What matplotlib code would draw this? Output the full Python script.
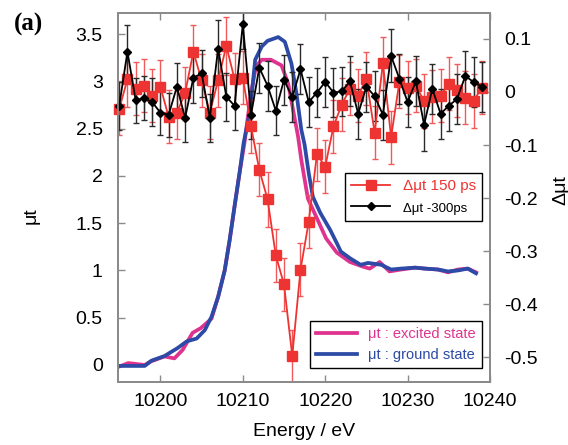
import matplotlib
matplotlib.use("Agg")
import matplotlib.pyplot as plt
import numpy as np
from matplotlib.ticker import FuncFormatter, MultipleLocator

plt.rcParams['font.family'] = ['Liberation Sans', 'DejaVu Sans']
plt.rcParams['axes.unicode_minus'] = False

# transient difference signals (right axis), one point per eV
energy = np.arange(10195, 10240)
d_150ps = [-0.032, 0.024, 0.006, 0.012, -0.007, 0.010, -0.047, -0.039, -0.002, 0.076,
           0.022, -0.039, 0.022, 0.087, 0.024, 0.027, -0.065, -0.147, -0.202, -0.308,
           -0.363, -0.498, -0.335, -0.245, -0.117, -0.141, -0.065, -0.024, 0.006, -0.007,
           0.025, -0.077, 0.054, -0.085, 0.019, 0.008, 0.012, -0.017, -0.009, -0.007,
           0.016, 0.003, -0.011, -0.017, 0.008]
err_150ps = [0.05, 0.052, 0.05, 0.05, 0.05, 0.05, 0.05, 0.05, 0.05, 0.05,
             0.05, 0.05, 0.05, 0.055, 0.05, 0.05, 0.05, 0.05, 0.052, 0.05,
             0.05, 0.05, 0.05, 0.05, 0.05, 0.05, 0.05, 0.05, 0.05, 0.05,
             0.05, 0.05, 0.05, 0.05, 0.05, 0.05, 0.05, 0.05, 0.05, 0.05,
             0.05, 0.05, 0.05, 0.05, 0.05]
d_m300ps = [-0.026, 0.076, -0.016, -0.011, -0.019, -0.039, -0.043, 0.010, -0.049, 0.027,
            0.035, -0.049, 0.082, -0.009, -0.026, 0.128, -0.043, 0.046, 0.012, -0.035,
            0.023, -0.010, 0.043, -0.019, -0.001, 0.019, -0.001, 0.001, 0.020, -0.041,
            0.010, -0.008, -0.043, 0.068, 0.025, -0.019, 0.020, -0.062, 0.006, -0.041,
            -0.026, -0.013, 0.030, 0.019, 0.010]
err_m300ps = [0.045, 0.05, 0.042, 0.042, 0.045, 0.043, 0.041, 0.045, 0.045, 0.047,
              0.045, 0.045, 0.054, 0.045, 0.045, 0.047, 0.045, 0.047, 0.047, 0.047,
              0.047, 0.047, 0.047, 0.047, 0.047, 0.047, 0.047, 0.047, 0.047, 0.047,
              0.047, 0.047, 0.047, 0.05, 0.047, 0.047, 0.047, 0.05, 0.047, 0.047,
              0.047, 0.047, 0.047, 0.047, 0.047]

# XANES spectra (left axis)
ex_E = [10194.9, 10196.1, 10198.1, 10198.9, 10200.5, 10201.7, 10202.7, 10203.9, 10204.9,
        10206.2, 10207.0, 10207.8, 10208.4, 10209.0, 10209.6, 10210.2, 10211.0, 10211.6,
        10212.3, 10213.4, 10214.7, 10215.5, 10216.1, 10216.7, 10217.1, 10217.9, 10218.9,
        10220.1, 10221.4, 10223.0, 10224.6, 10225.4, 10226.6, 10227.8, 10229.2, 10230.9,
        10232.1, 10233.7, 10234.9, 10236.1, 10237.3, 10238.3]
ex_mu = [-0.02, 0.02, 0.0, 0.04, 0.09, 0.07, 0.16, 0.34, 0.39,
         0.49, 0.72, 1.00, 1.32, 1.68, 2.03, 2.35, 2.88, 3.16,
         3.23, 3.23, 3.17, 2.98, 2.70, 2.42, 2.17, 1.76, 1.57,
         1.34, 1.19, 1.09, 1.04, 1.02, 1.09, 0.99, 1.01, 1.03,
         1.02, 1.01, 0.98, 1.01, 1.02, 0.98]
gs_E = [10194.9, 10196.5, 10198.1, 10198.9, 10200.5, 10202.1, 10203.2, 10204.4, 10205.4,
        10206.2, 10207.0, 10207.8, 10208.4, 10209.0, 10209.6, 10210.1, 10210.9, 10211.5,
        10212.3, 10213.0, 10214.3, 10215.1, 10215.9, 10216.5, 10217.1, 10217.5, 10218.0,
        10218.5, 10219.4, 10220.6, 10221.4, 10221.9, 10223.0, 10224.3, 10225.2, 10226.0,
        10226.8, 10228.0, 10229.2, 10230.9, 10232.1, 10233.7, 10234.9, 10236.1, 10237.3,
        10238.3]
gs_mu = [-0.01, -0.01, -0.01, 0.045, 0.095, 0.18, 0.25, 0.28, 0.37,
         0.51, 0.72, 1.00, 1.32, 1.68, 2.03, 2.35, 2.70, 3.23,
         3.37, 3.43, 3.47, 3.42, 3.19, 2.88, 2.49, 2.33, 2.03,
         1.78, 1.61, 1.43, 1.29, 1.20, 1.13, 1.06, 1.08, 1.07,
         1.06, 1.01, 1.02, 1.03, 1.02, 1.01, 0.99, 1.00, 1.02,
         0.97]

RED = '#ee3333'
BLACK = '#000000'
PINK = '#e0338f'
BLUE = '#2c4aa6'
SPINE = '#8a8a8a'

fig = plt.figure(figsize=(5.68, 4.45), dpi=100)
ax = fig.add_axes([0.2077, 0.1416, 0.655, 0.8299])

ax.plot(ex_E, ex_mu, color=PINK, lw=2.7, label='μt : excited state')
ax.plot(gs_E, gs_mu, color=BLUE, lw=2.7, label='μt : ground state')

ax.set_xlim(10194.85, 10240)
ax.set_ylim(-0.18, 3.728)
ax.xaxis.set_major_locator(MultipleLocator(10))
ax.yaxis.set_major_locator(MultipleLocator(0.5))
fmt = FuncFormatter(lambda v, p: f'{v:g}')
ax.xaxis.set_major_formatter(fmt)
ax.yaxis.set_major_formatter(fmt)
ax.tick_params(axis='x', direction='in', top=True, length=5, width=1, color=SPINE,
               labelsize=14, pad=8)
ax.tick_params(axis='y', direction='in', right=False, length=5, width=1, color=SPINE,
               labelsize=14, pad=11)
ax.set_xlabel('Energy / eV', fontsize=14, labelpad=9)
ax.set_ylabel('μt', fontsize=14)
ax.yaxis.set_label_coords(-0.21, 0.45)

leg1 = ax.legend(loc='lower right', bbox_to_anchor=(0.978, 0.037), borderaxespad=0,
                 fontsize=10.5, labelcolor='linecolor', handlelength=2.8,
                 fancybox=False, edgecolor='black', framealpha=1)
leg1.get_frame().set_linewidth(1)

ax2 = ax.twinx()
ax2.errorbar(energy, d_150ps, yerr=err_150ps, fmt='none', ecolor='#f05a5a',
             elinewidth=1, capsize=2.5, capthick=1)
ax2.errorbar(energy, d_m300ps, yerr=err_m300ps, fmt='none', ecolor='#2a2a2a',
             elinewidth=1, capsize=2.5, capthick=1)
l1, = ax2.plot(energy, d_150ps, color=RED, lw=1.3, marker='s', ms=6.5,
               label='Δμt 150 ps', clip_on=False)
l2, = ax2.plot(energy, d_m300ps, color=BLACK, lw=1.3, marker='D', ms=4.5,
               label='Δμt -300ps', clip_on=False)
ax2.set_ylim(-0.547, 0.1496)
ax2.yaxis.set_major_locator(MultipleLocator(0.1))
ax2.yaxis.set_major_formatter(FuncFormatter(lambda v, p: f'{round(v, 2):g}'))
ax2.tick_params(axis='y', direction='in', length=5, width=1, color=SPINE,
                labelsize=14, pad=10)
ax2.set_ylabel('Δμt', fontsize=14)
ax2.yaxis.set_label_coords(1.167, 0.52)

leg2 = ax2.legend(handles=[l1, l2], loc='upper right', bbox_to_anchor=(0.978, 0.565),
                  borderaxespad=0, fontsize=11, labelcolor='linecolor',
                  handlelength=2.6, fancybox=False, edgecolor='black', framealpha=1)
leg2.get_frame().set_linewidth(1)
leg2.get_texts()[1].set_fontsize(9.5)

for a in (ax, ax2):
    for s in a.spines.values():
        s.set_color(SPINE)
        s.set_linewidth(1.3)

fig.text(0.024, 0.945, '(a)', fontsize=18, fontweight='bold',
         family=['Liberation Serif', 'DejaVu Serif'], va='center')

fig.savefig('out.png', dpi=100)
